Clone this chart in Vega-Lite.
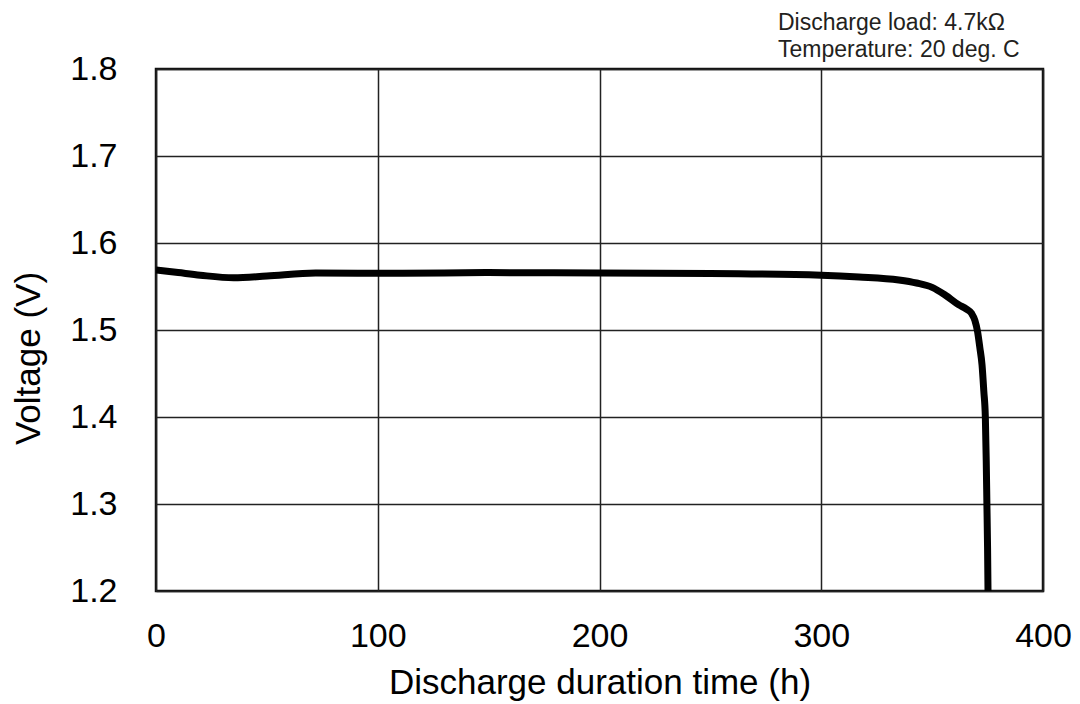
{
  "$schema": "https://vega.github.io/schema/vega-lite/v6.json",
  "autosize": {"type": "none"},
  "width": 887,
  "height": 522,
  "padding": {"left": 156, "top": 69, "right": 37, "bottom": 113},
  "background": "white",
  "title": {
    "text": ["Discharge load: 4.7kΩ", "Temperature: 20 deg. C"],
    "anchor": "start",
    "align": "left",
    "frame": "group",
    "dx": 622,
    "dy": 40,
    "offset": 12,
    "baseline": "alphabetic",
    "font": "Liberation Sans",
    "fontSize": 23,
    "fontWeight": "normal",
    "lineHeight": 27,
    "color": "#231f20"
  },
  "config": {
    "view": {"stroke": "#111", "strokeWidth": 2.5},
    "axis": {
      "labelFont": "Liberation Sans",
      "titleFont": "Liberation Sans",
      "labelColor": "#000",
      "titleColor": "#000",
      "titleFontWeight": "normal",
      "ticks": false,
      "grid": true,
      "gridColor": "#222",
      "gridWidth": 1.5,
      "gridOpacity": 1,
      "domain": false,
      "labelFlush": false
    }
  },
  "data": {
    "values": [
      {"h": 0, "v": 1.569},
      {"h": 10, "v": 1.566},
      {"h": 20, "v": 1.563},
      {"h": 35, "v": 1.560},
      {"h": 50, "v": 1.562},
      {"h": 72, "v": 1.5655},
      {"h": 110, "v": 1.5652},
      {"h": 150, "v": 1.566},
      {"h": 200, "v": 1.5655},
      {"h": 250, "v": 1.565},
      {"h": 300, "v": 1.563},
      {"h": 317, "v": 1.561},
      {"h": 335, "v": 1.5575},
      {"h": 343, "v": 1.554},
      {"h": 350, "v": 1.549},
      {"h": 356, "v": 1.540},
      {"h": 362, "v": 1.529},
      {"h": 365.5, "v": 1.524},
      {"h": 367.8, "v": 1.519},
      {"h": 369.3, "v": 1.511},
      {"h": 370.5, "v": 1.498},
      {"h": 371.5, "v": 1.48},
      {"h": 372.5, "v": 1.46},
      {"h": 373.3, "v": 1.43},
      {"h": 374, "v": 1.40},
      {"h": 374.4, "v": 1.35},
      {"h": 374.7, "v": 1.30},
      {"h": 375, "v": 1.25},
      {"h": 375.2, "v": 1.20}
    ]
  },
  "mark": {"type": "line", "color": "#000", "strokeWidth": 7, "interpolate": "monotone", "clip": true},
  "encoding": {
    "x": {
      "field": "h",
      "type": "quantitative",
      "scale": {"domain": [0, 400], "nice": false, "zero": false},
      "axis": {
        "values": [0, 100, 200, 300, 400],
        "title": "Discharge duration time (h)",
        "labelFontSize": 34,
        "labelPadding": 28,
        "titleFontSize": 35,
        "titleY": 74,
        "titleBaseline": "top"
      }
    },
    "y": {
      "field": "v",
      "type": "quantitative",
      "scale": {"domain": [1.2, 1.8], "nice": false, "zero": false},
      "axis": {
        "values": [1.2, 1.3, 1.4, 1.5, 1.6, 1.7, 1.8],
        "format": ".1f",
        "title": "Voltage (V)",
        "labelFontSize": 34,
        "labelPadding": 39,
        "titleFontSize": 35,
        "titleX": -128,
        "titleY": 289,
        "titleBaseline": "middle",
        "titleAlign": "center"
      }
    }
  }
}
